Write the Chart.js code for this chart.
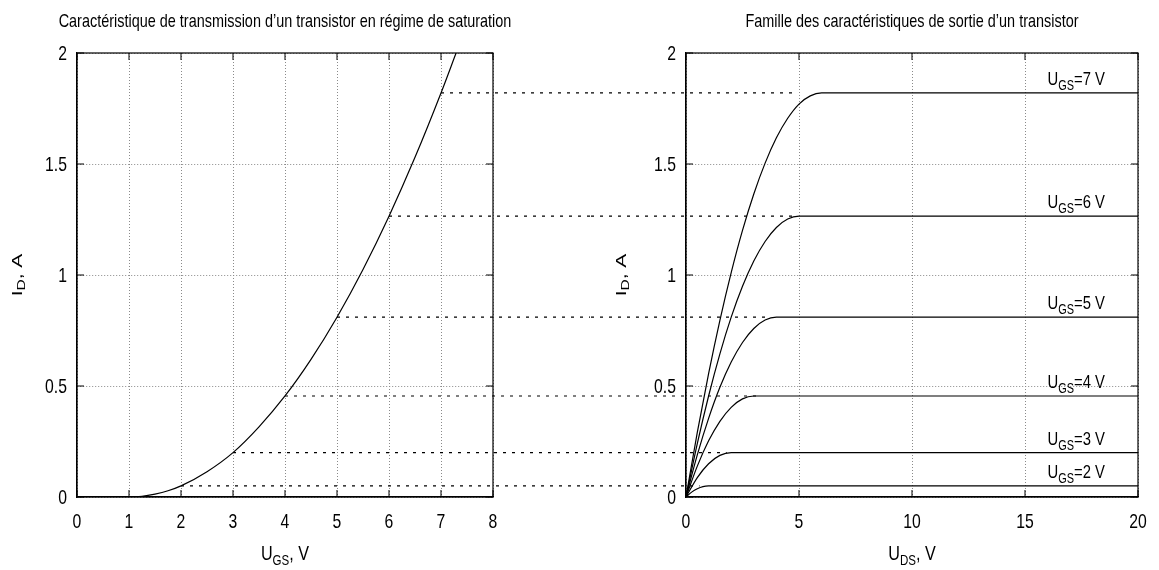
<!DOCTYPE html>
<html>
<head>
<meta charset="utf-8">
<script src="https://cdn.jsdelivr.net/npm/chart.js@4"></script>
<style>
  html, body { margin: 0; padding: 0; background: #fff; }
  #wrap { position: relative; width: 1159px; height: 570px; }
  #leftChart { position: absolute; left: 0; top: 0; }
  #rightChart { position: absolute; left: 590px; top: 0; }
</style>
</head>
<body>
<div id="wrap">
  <canvas id="leftChart" width="590" height="570"></canvas>
  <canvas id="rightChart" width="569" height="570"></canvas>
</div>
<script>
// tick labels
const yTicks = [0, 0.5, 1, 1.5, 2];
const ugsTicks = [0, 1, 2, 3, 4, 5, 6, 7, 8];
const udsTicks = [0, 5, 10, 15, 20];

// transfer characteristic (left)
const ugs = [0, 1, 1.25, 1.5, 1.75, 2, 2.5, 3, 3.5, 4, 4.5, 5, 5.5, 6, 6.5, 7, 7.29];
const idTransfer = [0, 0, 0.003, 0.013, 0.028, 0.05, 0.114, 0.2, 0.316, 0.455, 0.62, 0.81, 1.025, 1.265, 1.53, 1.82, 2.0];

// output characteristics (right), one curve per U_GS
const ugsLevels = [2, 3, 4, 5, 6, 7];
const idSat = [0.05, 0.2, 0.455, 0.81, 1.265, 1.82];
const uds2 = [0, 0.25, 0.5, 0.75, 1, 20];
const id2 = [0, 0.022, 0.0375, 0.047, 0.05, 0.05];
const uds3 = [0, 0.5, 1, 1.5, 2, 20];
const id3 = [0, 0.0875, 0.15, 0.1875, 0.2, 0.2];
const uds4 = [0, 0.5, 1, 1.5, 2, 2.5, 3, 20];
const id4 = [0, 0.139, 0.253, 0.341, 0.404, 0.442, 0.455, 0.455];
const uds5 = [0, 0.5, 1, 1.5, 2, 2.5, 3, 3.5, 4, 20];
const id5 = [0, 0.19, 0.354, 0.494, 0.608, 0.696, 0.759, 0.797, 0.81, 0.81];
const uds6 = [0, 0.5, 1, 1.5, 2, 2.5, 3, 3.5, 4, 4.5, 5, 20];
const id6 = [0, 0.24, 0.455, 0.645, 0.81, 0.949, 1.063, 1.151, 1.214, 1.252, 1.265, 1.265];
const uds7 = [0, 0.5, 1, 1.5, 2, 2.5, 3, 3.5, 4, 4.5, 5, 5.5, 6, 20];
const id7 = [0, 0.291, 0.556, 0.796, 1.011, 1.201, 1.365, 1.504, 1.618, 1.706, 1.77, 1.807, 1.82, 1.82];

// dotted links: end of each link inside the right panel
const linkEnd = [0.6, 1.8, 3.3, 3.6, 4.7, 4.9];
const labelX = 16;

const FAMILY = '"Liberation Sans Narrow", "Liberation Sans", Arial, sans-serif';
const NARROW = 0.77;
Chart.defaults.font.family = FAMILY;
Chart.defaults.color = '#000';
Chart.defaults.animation = false;

// draws text pieces (main / subscript) with a horizontal squeeze
function drawParts(ctx, parts, x, y, align, sx) {
    sx = sx || NARROW;
    let total = 0;
    const widths = parts.map(p => {
        ctx.font = p[1] + 'px ' + FAMILY;
        const w = ctx.measureText(p[0]).width;
        total += w;
        return w;
    });
    let start = x;
    if (align === 'center') start = x - total * sx / 2;
    if (align === 'right') start = x - total * sx;
    ctx.save();
    ctx.translate(start, y);
    ctx.scale(sx, 1);
    ctx.textAlign = 'left';
    ctx.textBaseline = 'alphabetic';
    ctx.fillStyle = '#000';
    let cx = 0;
    parts.forEach((p, i) => {
        ctx.font = p[1] + 'px ' + FAMILY;
        ctx.fillText(p[0], cx, p[2]);
        cx += widths[i];
    });
    ctx.restore();
}

function drawYTitle(ctx, cx, cy) {
    ctx.save();
    ctx.translate(cx, cy);
    ctx.rotate(-Math.PI / 2);
    drawParts(ctx, [['I', 15, 0], ['D', 11, 3], [', A', 15, 0]], 0, 5, 'center', 1.4);
    ctx.restore();
}

const framePlugin = {
    id: 'frame',
    afterDatasetsDraw(chart) {
        const {ctx, chartArea: a, scales: {x, y}} = chart;
        ctx.save();
        ctx.strokeStyle = '#000';
        ctx.lineWidth = 1.2;
        ctx.strokeRect(a.left, a.top, a.right - a.left, a.bottom - a.top);
        ctx.lineWidth = 1;
        ctx.beginPath();
        x.ticks.forEach(t => {
            const px = x.getPixelForValue(t.value);
            ctx.moveTo(px, a.bottom); ctx.lineTo(px, a.bottom - 7);
            ctx.moveTo(px, a.top); ctx.lineTo(px, a.top + 7);
        });
        y.ticks.forEach(t => {
            const py = y.getPixelForValue(t.value);
            ctx.moveTo(a.left, py); ctx.lineTo(a.left + 7, py);
            ctx.moveTo(a.right, py); ctx.lineTo(a.right - 7, py);
        });
        ctx.stroke();
        // tick labels, squeezed like the original narrow font
        x.ticks.forEach(t => {
            drawParts(ctx, [[String(t.value), 21, 0]], x.getPixelForValue(t.value), a.bottom + 31, 'center', 0.75);
        });
        y.ticks.forEach(t => {
            drawParts(ctx, [[String(t.value), 21, 0]], a.left - 10, y.getPixelForValue(t.value) + 7, 'right', 0.75);
        });
        ctx.restore();
    }
};

function linePoints(xs, ys) {
    return xs.map((v, i) => ({x: v, y: ys[i]}));
}

function axisX(min, max, ticks) {
    return {
        type: 'linear', min: min, max: max,
        afterBuildTicks: s => { s.ticks = ticks.map(v => ({value: v})); },
        afterFit: s => { s.height = 73; },
        ticks: {display: false},
        grid: {color: '#8a8a8a', drawTicks: false, lineWidth: 1},
        border: {display: true, color: '#000', width: 1.2, dash: [1, 2]}
    };
}

function axisY(width) {
    return {
        type: 'linear', min: 0, max: 2,
        afterBuildTicks: s => { s.ticks = yTicks.map(v => ({value: v})); },
        afterFit: s => { s.width = width; },
        ticks: {display: false},
        grid: {color: '#8a8a8a', drawTicks: false, lineWidth: 1},
        border: {display: true, color: '#000', width: 1.2, dash: [1, 2]}
    };
}

const solid = {borderColor: '#000', borderWidth: 1.2, pointRadius: 0, fill: false, cubicInterpolationMode: 'monotone'};
const dotted = {borderColor: '#000', borderWidth: 1.2, pointRadius: 0, fill: false, borderDash: [3, 6], clip: false};

// left chart
const leftDatasets = [Object.assign({data: linePoints(ugs, idTransfer)}, solid)];
ugsLevels.forEach((u, i) => {
    leftDatasets.push(Object.assign({data: [{x: u, y: idSat[i]}, {x: 10, y: idSat[i]}]}, dotted));
});

new Chart(document.getElementById('leftChart'), {
    type: 'line',
    data: {datasets: leftDatasets},
    options: {
        responsive: false,
        layout: {padding: {left: 0, right: 97, top: 53, bottom: 0}},
        plugins: {legend: {display: false}, tooltip: {enabled: false}},
        scales: {x: axisX(0, 8, ugsTicks), y: axisY(77)}
    },
    plugins: [framePlugin, {
        id: 'texts',
        afterDraw(chart) {
            const {ctx, chartArea: a} = chart;
            const mid = (a.left + a.right) / 2;
            drawParts(ctx, [['Caractéristique de transmission d’un transistor en régime de saturation', 19, 0]], mid, 27, 'center', 0.76);
            drawParts(ctx, [['U', 21, 0], ['GS', 15, 5], [', V', 21, 0]], mid, 560, 'center');
            drawYTitle(ctx, 17, 275);
        }
    }]
});

// right chart
const outX = [uds2, uds3, uds4, uds5, uds6, uds7];
const outY = [id2, id3, id4, id5, id6, id7];
const rightDatasets = [];
ugsLevels.forEach((u, i) => {
    rightDatasets.push(Object.assign({data: [{x: -5, y: idSat[i]}, {x: linkEnd[i], y: idSat[i]}]}, dotted));
});
ugsLevels.forEach((u, i) => {
    rightDatasets.push(Object.assign({data: linePoints(outX[i], outY[i])}, solid));
});

new Chart(document.getElementById('rightChart'), {
    type: 'line',
    data: {datasets: rightDatasets},
    options: {
        responsive: false,
        layout: {padding: {left: 0, right: 21, top: 53, bottom: 0}},
        plugins: {legend: {display: false}, tooltip: {enabled: false}},
        scales: {x: axisX(0, 20, udsTicks), y: axisY(96)}
    },
    plugins: [framePlugin, {
        id: 'texts',
        afterDraw(chart) {
            const {ctx, chartArea: a, scales: {x, y}} = chart;
            const mid = (a.left + a.right) / 2;
            drawParts(ctx, [['Famille des caractéristiques de sortie d’un transistor', 19, 0]], mid, 27, 'center', 0.76);
            drawParts(ctx, [['U', 21, 0], ['DS', 15, 5], [', V', 21, 0]], mid, 560, 'center');
            drawYTitle(ctx, 31, 275);
            ugsLevels.forEach((u, i) => {
                drawParts(ctx, [['U', 19, 0], ['GS', 14, 5], ['=' + u + ' V', 19, 0]],
                    x.getPixelForValue(labelX), y.getPixelForValue(idSat[i]) - 8, 'left', 0.78);
            });
        }
    }]
});
</script>
</body>
</html>
